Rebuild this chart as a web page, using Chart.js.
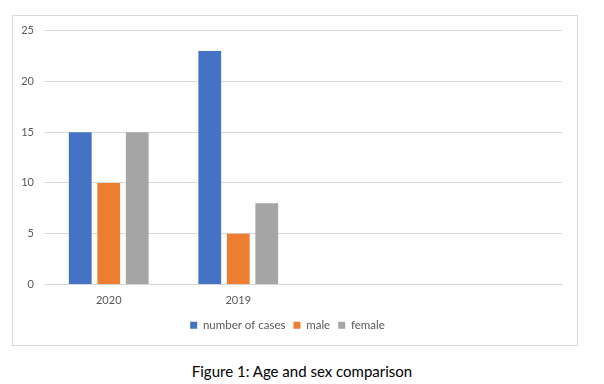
<!DOCTYPE html>
<html>
<head>
<meta charset="utf-8">
<script src="https://cdn.jsdelivr.net/npm/chart.js@4"></script>
<style>
  body { margin: 0; background: #fff; }
  #box { position: absolute; left: 12px; top: 15px; width: 564px; height: 329px; border: 1px solid #d9d9d9; }
  #c { position: absolute; left: 0; top: -2px; }
  #caption { position: absolute; left: 0; top: 362px; width: 604px; text-align: center;
             font-family: Lato, "Open Sans", sans-serif; font-size: 15px; color: #000; }
</style>
</head>
<body>
<div id="box"><canvas id="c" width="564" height="331"></canvas></div>
<div id="caption">Figure 1: Age and sex comparison</div>
<script>
// categories (the last two are empty slots, as in the original chart)
var years = ['2020', '2019', '', ''];
var cases = [15, 23, null, null];
var male = [10, 5, null, null];
var female = [15, 8, null, null];
var yTicks = [0, 5, 10, 15, 20, 25];

var font = { family: 'Lato, "Open Sans", sans-serif', size: 11 };

new Chart(document.getElementById('c'), {
  type: 'bar',
  data: {
    labels: years,
    datasets: [
      { label: 'number of cases', data: cases, backgroundColor: '#4472C4' },
      { label: 'male', data: male, backgroundColor: '#ED7D31' },
      { label: 'female', data: female, backgroundColor: '#A5A5A5' }
    ]
  },
  options: {
    responsive: false,
    animation: false,
    datasets: { bar: { categoryPercentage: 0.66, barPercentage: 0.8 } },
    layout: { padding: { top: 4, right: 15, bottom: 4, left: 0 } },
    plugins: {
      tooltip: { enabled: false },
      legend: {
        position: 'bottom',
        labels: { boxWidth: 7, boxHeight: 7, color: '#595959', font: { family: font.family, size: 11.5 }, padding: 8 }
      }
    },
    scales: {
      x: {
        grid: { display: false, drawTicks: false },
        border: { color: '#d9d9d9' },
        ticks: { color: '#595959', font: font, padding: 9 },
        afterFit: function (s) { s.height = 27; }
      },
      y: {
        min: 0, max: 25,
        afterBuildTicks: function (s) { s.ticks = yTicks.map(function (v) { return { value: v }; }); },
        afterFit: function (s) { s.width = 31; },
        grid: { color: '#d9d9d9', drawTicks: false },
        border: { display: false },
        ticks: { color: '#595959', font: font, padding: 10 }
      }
    }
  }
});
</script>
</body>
</html>
